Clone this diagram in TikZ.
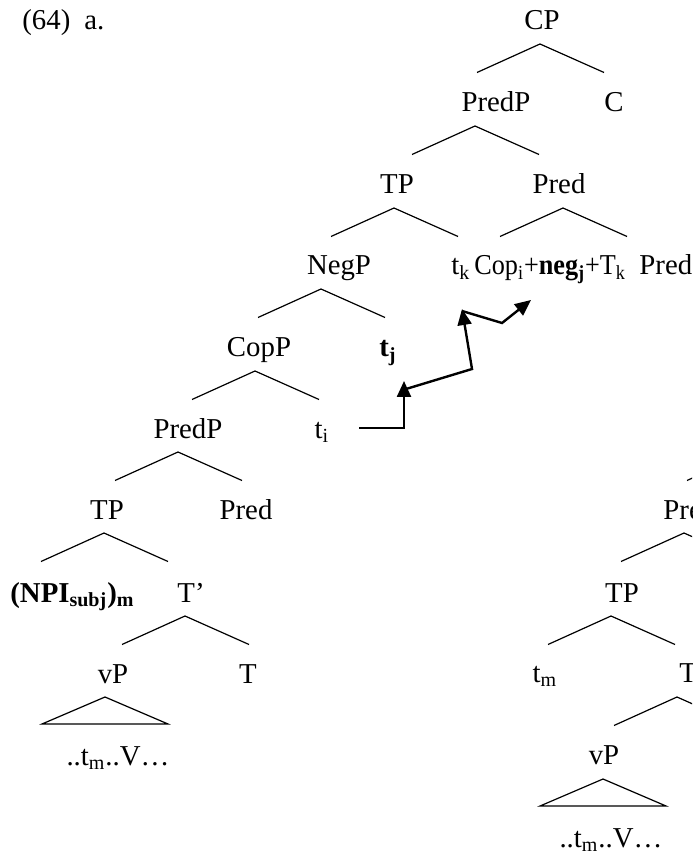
\documentclass[tikz,border=0pt]{standalone}
\usepackage{fontspec}
\setmainfont{Liberation Serif}
\usetikzlibrary{arrows.meta}

% two branches below an apex, and a triangle
\newcommand{\treefork}[1]{\draw[branch] (#1) -- ++(-63,28.5) (#1) -- ++(64,28.5);}
\newcommand{\treetri}[1]{\draw[branch] (#1) -- ++(-63,27) -- ++(126,0) -- cycle;}

\begin{document}
\begin{tikzpicture}[x=0.5pt, y=-0.5pt,
  lbl/.style={anchor=base, inner sep=0pt, font=\fontsize{14.4}{17}\selectfont},
  lbll/.style={lbl, anchor=base west},
  branch/.style={line width=0.6pt},
  mv/.style={line width=1.2pt, -{Triangle[length=8pt, width=7pt]}}]
\useasboundingbox (0,0) rectangle (692,854);
\clip (0,0) rectangle (692,854);

\node[lbll] (ex) at (22,30) {(64)\hspace{7pt}a.};

% left tree
\node[lbl] (cp) at (542,30) {CP};
\node[lbl] (predp1) at (496,112) {PredP};
\node[lbl] (c) at (614,112) {C};
\node[lbl] (tp1) at (397,194) {TP};
\node[lbl] (pred1) at (559,194) {Pred};
\node[lbl] (negp) at (339,275) {NegP};
\node[lbll] (tk) at (451,275) {t\textsubscript{k}};
\node[lbll] (cop) at (474,275) {\scalebox{0.91}[1]{Cop\textsubscript{i}+\textbf{neg\textsubscript{j}}+T\textsubscript{k}}};
\node[lbll] (pred2) at (639,275) {Pred};
\node[lbl] (copp) at (259,357) {CopP};
\node[lbl] (tj) at (388,357) {\textbf{t\textsubscript{j}}};
\node[lbl] (predp2) at (188,438) {PredP};
\node[lbl] (ti) at (322,438) {t\textsubscript{i}};
\node[lbl] (tp2) at (107,519) {TP};
\node[lbl] (pred3) at (246,519) {Pred};
\node[lbll] (npi) at (10,602) {\textbf{(NPI\textsubscript{subj})\textsubscript{m}}};
\node[lbl] (tbar) at (191,602) {T’};
\node[lbl] (vp) at (113,683) {vP};
\node[lbl] (t) at (248,683) {T};
\node[lbl] (tv) at (118,765) {..t\textsubscript{m}..V…};

\coordinate (cp-a) at (540,44);
\coordinate (predp1-a) at (475,126);
\coordinate (tp1-a) at (394,208);
\coordinate (pred1-a) at (563,208);
\coordinate (negp-a) at (321,289);
\coordinate (copp-a) at (255,371);
\coordinate (predp2-a) at (178,452);
\coordinate (tp2-a) at (104,533);
\coordinate (tbar-a) at (185,616);
\coordinate (vp-a) at (105,697);
\treefork{cp-a}
\treefork{predp1-a}
\treefork{tp1-a}
\treefork{pred1-a}
\treefork{negp-a}
\treefork{copp-a}
\treefork{predp2-a}
\treefork{tp2-a}
\treefork{tbar-a}
\treetri{vp-a}

% right tree (cut off)
\node[lbll] (pred4) at (663,519) {Pred};
\node[lbl] (tp3) at (622,602) {TP};
\node[lbl] (tm) at (545,682) {t\textsubscript{m}};
\node[lbll] (tbar2) at (679,682) {T’};
\node[lbl] (vp2) at (604,764) {vP};
\node[lbl] (tv2) at (611,847) {..t\textsubscript{m}..V…};

\coordinate (top-a) at (750,452);
\coordinate (pred4-a) at (684,533);
\coordinate (tp3-a) at (611,616);
\coordinate (tbar2-a) at (677,697);
\coordinate (vp2-a) at (603,779);
\draw[branch] (top-a) -- ++(-63,28.5);
\treefork{pred4-a}
\treefork{tp3-a}
\treefork{tbar2-a}
\treetri{vp2-a}

% movement arrows
\coordinate (m0) at (359,428);
\coordinate (m1) at (404,428);
\coordinate (m2) at (404,381);
\coordinate (n0) at (406,389);
\coordinate (n1) at (472,369);
\coordinate (n2) at (462,309);
\coordinate (o0) at (462,311);
\coordinate (o1) at (502,323);
\coordinate (o2) at (531,300);
\draw[mv] (m0) -- (m1) -- (m2);
\draw[mv] (n0) -- (n1) -- (n2);
\draw[mv] (o0) -- (o1) -- (o2);
\end{tikzpicture}
\end{document}
